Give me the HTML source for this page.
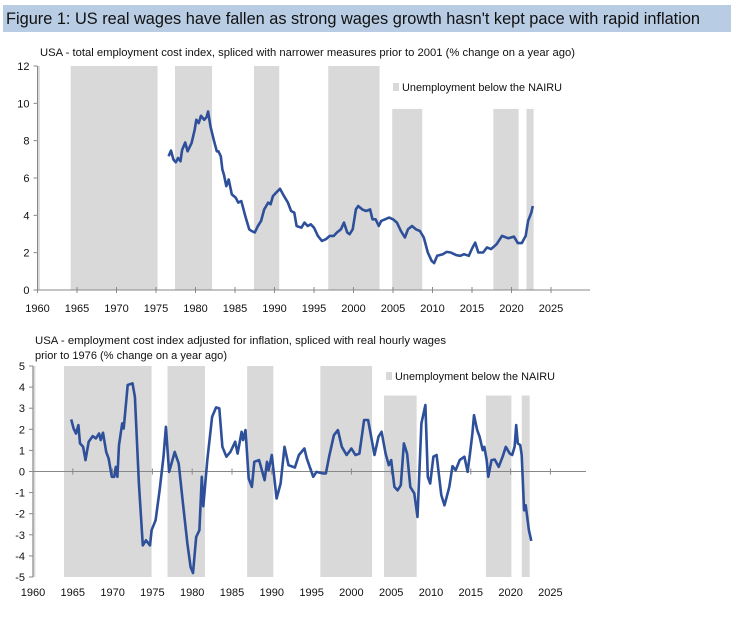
<!DOCTYPE html>
<html><head><meta charset="utf-8"><style>
body{margin:0;background:#fff;width:731px;height:617px;overflow:hidden;font-family:"Liberation Sans",sans-serif}
</style></head><body>
<svg id="s" width="731" height="617" xmlns="http://www.w3.org/2000/svg" font-family="Liberation Sans, sans-serif">
<rect x="3" y="5" width="728" height="27" fill="#b8cce4"/>
<text x="6" y="24" font-size="17" textLength="694" lengthAdjust="spacingAndGlyphs" fill="#111">Figure 1: US real wages have fallen as strong wages growth hasn't kept pace with rapid inflation</text>
<text x="40" y="56" font-size="11" textLength="535" lengthAdjust="spacingAndGlyphs" fill="#111">USA - total employment cost index, spliced with narrower measures prior to 2001 (% change on a year ago)</text>
<text x="35" y="344" font-size="11" textLength="411" lengthAdjust="spacingAndGlyphs" fill="#111">USA - employment cost index adjusted for inflation, spliced with real hourly wages</text>
<text x="35" y="359" font-size="11" textLength="192" lengthAdjust="spacingAndGlyphs" fill="#111">prior to 1976 (% change on a year ago)</text>
<g id="c1"></g>
<g id="c2"></g>
</svg>
<script>
// Chart 1 data
const c1Years=[1976.6,1976.9,1977.2,1977.5,1977.8,1978.1,1978.3,1978.7,1979.0,1979.5,1979.9,1980.1,1980.4,1980.7,1981.1,1981.4,1981.6,1981.9,1982.3,1982.7,1982.9,1983.2,1983.4,1983.6,1983.9,1984.2,1984.6,1985.1,1985.4,1985.8,1986.3,1986.8,1987.1,1987.5,1987.9,1988.3,1988.7,1989.2,1989.5,1989.8,1990.2,1990.7,1991.2,1991.7,1992.1,1992.5,1992.8,1993.4,1993.8,1994.2,1994.6,1995.0,1995.5,1996.0,1996.5,1997.0,1997.5,1997.9,1998.4,1998.8,1999.2,1999.5,1999.9,2000.3,2000.6,2001.1,2001.6,2002.1,2002.4,2002.8,2003.2,2003.5,2004.0,2004.5,2005.0,2005.5,2006.0,2006.5,2006.9,2007.4,2007.9,2008.4,2008.9,2009.4,2009.9,2010.2,2010.6,2011.3,2011.8,2012.3,2013.0,2013.5,2014.0,2014.6,2015.0,2015.4,2015.8,2016.4,2016.9,2017.4,2018.1,2018.8,2019.6,2020.3,2020.8,2021.3,2021.8,2022.1,2022.5,2022.7];
const c1Values=[7.16,7.47,6.99,6.84,7.07,6.9,7.5,7.9,7.43,7.88,8.59,9.12,8.94,9.33,9.12,9.26,9.56,8.76,8.05,7.43,7.43,7.16,6.45,6.19,5.56,5.92,5.12,4.94,4.68,4.76,3.96,3.25,3.16,3.08,3.43,3.70,4.32,4.68,4.59,5.03,5.21,5.42,5.03,4.68,4.23,4.14,3.43,3.34,3.61,3.43,3.52,3.34,2.90,2.63,2.72,2.90,2.90,3.08,3.25,3.61,3.08,2.99,3.25,4.32,4.50,4.32,4.23,4.32,3.79,3.79,3.43,3.70,3.79,3.88,3.79,3.61,3.16,2.81,3.25,3.43,3.25,3.16,2.81,2.01,1.56,1.44,1.83,1.92,2.04,2.01,1.87,1.83,1.92,1.83,2.22,2.54,2.01,2.01,2.28,2.19,2.45,2.90,2.77,2.86,2.51,2.51,2.90,3.70,4.14,4.50];
const c1BandStarts=[1960.0,1964.2,1977.4,1987.4,1996.8,2004.9,2017.7,2021.9];
const c1BandEnds=[1960.3,1975.2,1982.1,1990.6,2003.3,2008.7,2020.9,2022.8];
const c1BandTops=[12,12,12,12,12,9.7,9.7,9.7];
const c1YTicks=[0,2,4,6,8,10,12];
const xTickYears=[1960,1965,1970,1975,1980,1985,1990,1995,2000,2005,2010,2015,2020,2025];
// Chart 2 data
const c2Years=[1964.8,1965.1,1965.4,1965.7,1965.9,1966.3,1966.6,1967.0,1967.5,1967.9,1968.3,1968.5,1968.8,1969.2,1969.5,1969.9,1970.2,1970.4,1970.6,1970.8,1971.2,1971.4,1971.9,1972.5,1972.8,1973.3,1973.8,1974.2,1974.7,1974.9,1975.4,1975.9,1976.4,1976.7,1977.1,1977.4,1977.8,1978.3,1978.8,1979.4,1979.8,1980.1,1980.5,1980.9,1981.2,1981.4,1981.9,1982.5,1983.0,1983.4,1983.8,1984.3,1984.8,1985.4,1985.7,1986.2,1986.4,1986.7,1987.1,1987.5,1987.8,1988.4,1989.1,1989.4,1989.6,1990.0,1990.6,1991.1,1991.6,1992.1,1992.9,1993.4,1994.1,1994.4,1995.2,1995.6,1996.4,1996.8,1997.2,1997.8,1998.3,1998.8,1999.4,2000.0,2000.5,2001.0,2001.6,2002.1,2002.9,2003.4,2003.8,2004.3,2004.7,2005.0,2005.4,2005.8,2006.2,2006.6,2007.0,2007.4,2007.9,2008.3,2008.8,2009.3,2009.6,2009.9,2010.3,2010.7,2011.3,2011.7,2012.3,2012.7,2013.1,2013.6,2014.2,2014.6,2014.9,2015.2,2015.4,2015.8,2016.1,2016.5,2016.7,2017.0,2017.2,2017.6,2018.0,2018.5,2019.0,2019.4,2019.9,2020.2,2020.5,2020.7,2020.9,2021.2,2021.4,2021.7,2021.9,2022.3,2022.6];
const c2Values=[2.47,2.04,1.80,2.20,1.33,1.17,0.54,1.41,1.68,1.57,1.80,1.49,1.84,0.93,0.62,-0.25,-0.25,0.22,-0.25,1.25,2.28,2.04,4.10,4.18,3.54,-0.57,-3.50,-3.26,-3.50,-2.78,-2.31,-0.89,0.70,2.12,-0.02,0.38,0.93,0.38,-1.36,-3.42,-4.53,-4.81,-3.10,-2.78,-0.25,-1.65,0.54,2.59,3.04,2.99,1.17,0.70,0.93,1.41,0.85,1.88,1.49,1.96,-0.33,-0.73,0.46,0.54,-0.41,0.46,0.06,0.78,-1.28,-0.57,1.17,0.30,0.19,0.78,1.09,0.62,-0.25,-0.02,-0.09,-0.09,0.70,1.72,1.96,1.17,0.78,1.09,0.78,0.85,2.44,2.44,0.78,1.65,1.88,0.85,0.30,0.54,-0.73,-0.89,-0.65,1.33,0.85,-0.73,-1.04,-2.15,2.28,3.15,-0.25,-0.57,0.70,0.78,-1.12,-1.60,-0.73,0.25,0.06,0.54,0.70,-0.02,0.85,1.80,2.67,1.96,1.65,1.01,1.17,0.54,-0.25,0.54,0.57,0.22,0.70,1.17,0.85,0.78,1.17,2.20,1.33,1.25,0.78,-1.84,-1.60,-2.78,-3.29];
const c2BandStarts=[1959.9,1963.9,1976.9,1986.9,1996.1,2004.1,2016.9,2021.4];
const c2BandEnds=[1960.3,1974.9,1981.6,1990.2,2002.6,2008.2,2020.1,2022.4];
const c2BandTops=[5,5,5,5,5,3.6,3.6,3.6];
const c2YTicks=[-5,-4,-3,-2,-1,0,1,2,3,4,5];

const NS='http://www.w3.org/2000/svg';
function mk(parent,tag,attrs){const e=document.createElementNS(NS,tag);for(const k in attrs)e.setAttribute(k,attrs[k]);parent.appendChild(e);return e;}

function draw(g,cfg){
  const X=y=>cfg.x0+(y-1960)*cfg.pxYear;
  const Y=v=>cfg.yBot-(v-cfg.vMin)*(cfg.yBot-cfg.yTop)/(cfg.vMax-cfg.vMin);
  cfg.bs.forEach((s,i)=>{
    const r=mk(g,'rect',{x:X(s),y:Y(cfg.bt[i]),width:X(cfg.be[i])-X(s),height:cfg.yBot-Y(cfg.bt[i]),fill:'#d9d9d9'});
    
    
  });
  const ax=mk(g,'line',{x1:cfg.x0,y1:cfg.yTop,x2:cfg.x0,y2:cfg.yBot,stroke:'#888','stroke-width':1});
  
  
  const xl=mk(g,'line',{x1:cfg.x0,y1:Y(0),x2:cfg.xEnd,y2:Y(0),stroke:'#888','stroke-width':1});
  
  
  cfg.yt.forEach(v=>{
    mk(g,'line',{x1:cfg.x0-4,y1:Y(v),x2:cfg.x0,y2:Y(v),stroke:'#888'});
    const t=mk(g,'text',{x:cfg.x0-8,y:Y(v)+4,'font-size':11,'text-anchor':'end',fill:'#111'});
    t.textContent=v;
    
    
  });
  xTickYears.forEach(yr=>{
    mk(g,'line',{x1:X(yr),y1:Y(0)-3,x2:X(yr),y2:Y(0)+3,stroke:'#888'});
    const t=mk(g,'text',{x:X(yr),y:cfg.labelY,'font-size':11,'text-anchor':'middle',fill:'#111'});
    t.textContent=yr;
    
    
  });
  const p=mk(g,'polyline',{points:cfg.xs.map((y,i)=>X(y).toFixed(1)+','+Y(cfg.vs[i]).toFixed(1)).join(' '),fill:'none',stroke:'#2e4f99','stroke-width':2.6,'stroke-linejoin':'round'});
  
  
  const sq=mk(g,'rect',{x:cfg.lx,y:cfg.ly-4,width:6,height:8,fill:'#d9d9d9'});
  
  
  const lt=mk(g,'text',{x:cfg.lx+9,y:cfg.ly+4,'font-size':11,fill:'#111',textLength:160,lengthAdjust:'spacingAndGlyphs'});
  lt.textContent='Unemployment below the NAIRU';
  
  
}
draw(document.getElementById('c1'),{x0:37.5,pxYear:7.9,xEnd:590,yTop:66,yBot:290,vMin:0,vMax:12,yt:c1YTicks,labelY:312,xs:c1Years,vs:c1Values,bs:c1BandStarts,be:c1BandEnds,bt:c1BandTops,lx:393,ly:87});
draw(document.getElementById('c2'),{x0:33,pxYear:7.96,xEnd:586,yTop:366,yBot:577,vMin:-5,vMax:5,yt:c2YTicks,labelY:596,xs:c2Years,vs:c2Values,bs:c2BandStarts,be:c2BandEnds,bt:c2BandTops,lx:386,ly:376});
</script>
</body></html>
